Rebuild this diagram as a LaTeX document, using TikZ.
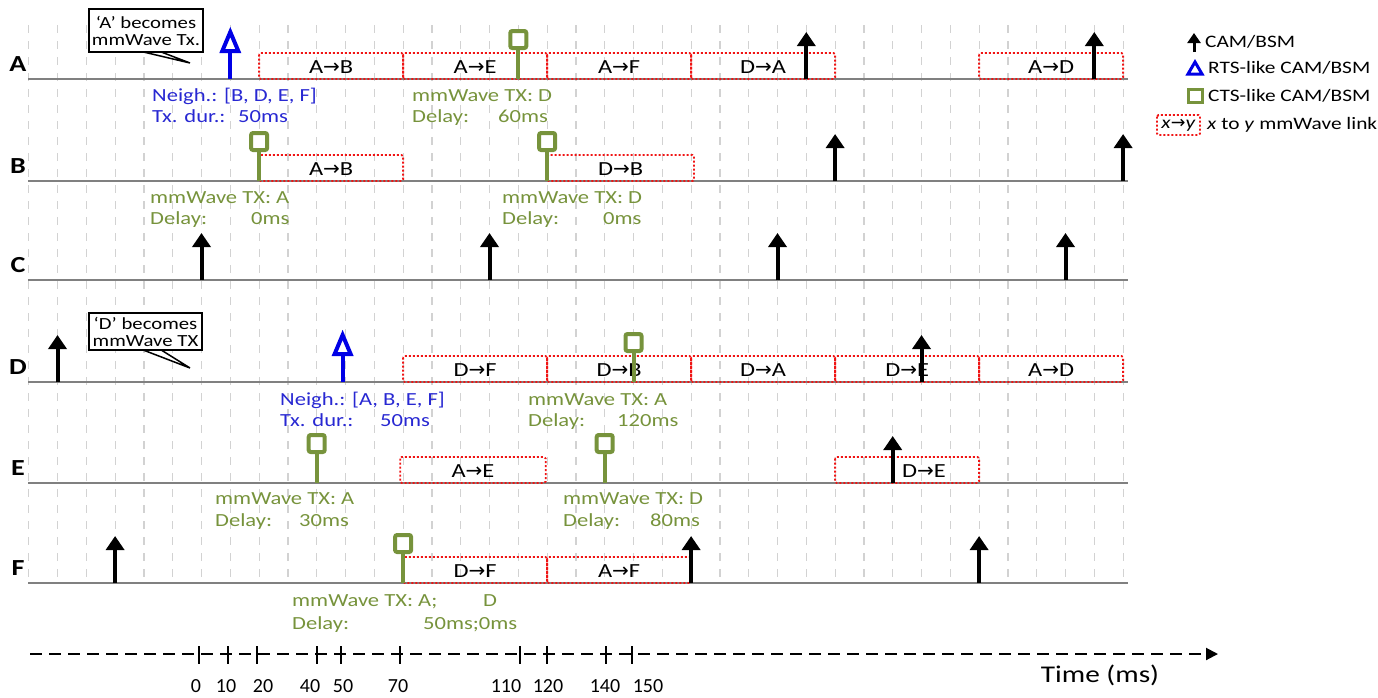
\documentclass[tikz,border=0pt]{standalone}
\usepackage{fontspec}
\setmainfont{Carlito}[FakeStretch=1.22]
\newfontfamily\plainf{Carlito}
\newfontfamily\arrf{DejaVu Sans}
\usetikzlibrary{arrows.meta}
\definecolor{tlgray}{RGB}{128,128,128}
\definecolor{gridgray}{RGB}{210,210,210}
\definecolor{ctsgreen}{RGB}{119,147,60}
\definecolor{rtsblue}{RGB}{0,0,230}
\definecolor{txtblue}{RGB}{40,40,210}
\definecolor{linkred}{RGB}{240,20,20}
\newcommand{\rarw}{{\arrf →}}
\newcommand{\camat}[2]{\draw[camarr] ({tx(#1)},#2) -- ({tx(#1)},#2-47);}
\newcommand{\rtsat}[2]{\draw[rtsln] ({tx(#1)},#2) -- ({tx(#1)},#2-28);
  \draw[rtsln, fill=white, line join=miter] ({tx(#1)-8},#2-28) -- ({tx(#1)},#2-47) -- ({tx(#1)+8},#2-28) -- cycle;}
\newcommand{\ctsat}[2]{\draw[ctsln] ({tx(#1)},#2) -- ({tx(#1)},#2-31);
  \draw[ctsln, fill=white, rounded corners=2pt] ({tx(#1)-8},#2-48) rectangle ({tx(#1)+8},#2-31);}
\newcommand{\lnk}[5]{\draw[linkbox] ({tx(#2)},#4-26) rectangle ({tx(#3)},#4);
  \node[linktxt] (#1) at ({(tx(#2)+tx(#3))/2},#4-12) {#5};}
\begin{document}
\begin{tikzpicture}[x=1pt,y=-1pt,
  declare function={tx(\t)=201.5+2.88*\t;},
  gridln/.style={draw=gridgray, line width=1.2pt, dash pattern=on 8pt off 8pt},
  tline/.style={draw=tlgray, line width=2pt},
  linkbox/.style={draw=linkred, line width=1.8pt, dash pattern=on 2pt off 2pt, rounded corners=1.5pt},
  linktxt/.style={inner sep=0pt, font=\fontsize{20}{20}\selectfont},
  camarr/.style={draw=black, line width=4pt, -{Triangle[width=18pt,length=14pt]}},
  rtsln/.style={draw=rtsblue, line width=4pt},
  ctsln/.style={draw=ctsgreen, line width=4pt},
  rowlbl/.style={inner sep=0pt, font=\fontsize{23}{23}\selectfont\bfseries},
  lbl/.style={inner sep=0pt, anchor=base west, font=\fontsize{18.5}{21}\selectfont},
  blbl/.style={lbl, text=txtblue},
  glbl/.style={lbl, text=ctsgreen},
  callbox/.style={draw=black, line width=1.5pt, fill=white, inner sep=0pt, align=center, font=\fontsize{17}{17}\selectfont},
  legtxt/.style={inner sep=0pt, anchor=west, font=\fontsize{17.5}{17.5}\selectfont},
  ticklbl/.style={inner sep=0pt, font=\plainf\fontsize{20}{20}\selectfont},
]
\useasboundingbox (0,0) rectangle (1378,697);
% grid
\foreach \t in {-60,-50,...,320} \draw[gridln] ({tx(\t)},25) -- ({tx(\t)},583);
% timelines and row letters
\foreach \r/\L in {A/79,B/181,C/280,D/382,E/483,F/583}{
  \draw[tline] (28,\L) -- (1128,\L);
  \node[rowlbl] (row\r) at (18,\L-14.5) {\r};
}
% ---- links
\lnk{lA1}{20}{70}{79}{A\rarw B}
\lnk{lA2}{70}{120}{79}{A\rarw E}
\lnk{lA3}{120}{170}{79}{A\rarw F}
\lnk{lA4}{170}{220}{79}{D\rarw A}
\lnk{lA5}{270}{320}{79}{A\rarw D}
\lnk{lB1}{20}{70}{181}{A\rarw B}
\lnk{lB2}{120}{171}{181}{D\rarw B}
\lnk{lD1}{70}{120}{382}{D\rarw F}
\lnk{lD2}{120}{170}{382}{D\rarw B}
\lnk{lD3}{170}{220}{382}{D\rarw A}
\lnk{lD4}{220}{270}{382}{D\rarw E}
\lnk{lD5}{270}{320}{382}{A\rarw D}
\lnk{lE1}{69}{119.5}{483}{A\rarw E}
\draw[linkbox] ({tx(220)},483-26) rectangle ({tx(270)},483);
\node[linktxt] (lE2) at (924,483-12) {D\rarw E};
\lnk{lF1}{70}{120}{583}{D\rarw F}
\lnk{lF2}{120}{170}{583}{A\rarw F}
% ---- symbols
% A
\rtsat{10}{79}
\ctsat{110}{79}
\camat{210}{79}
\camat{310}{79}
% B
\ctsat{20}{181}
\ctsat{120}{181}
\camat{220}{181}
\camat{320}{181}
% C
\camat{0}{280}
\camat{100}{280}
\camat{200}{280}
\camat{300}{280}
% D
\camat{-50}{382}
\rtsat{49}{382}
\ctsat{150}{382}
\camat{250}{382}
% E
\ctsat{40}{483}
\ctsat{140}{483}
\camat{240}{483}
% F
\camat{-30}{583}
\ctsat{70}{583}
\camat{170}{583}
\camat{270}{583}
% ---- callouts
\draw[line width=1.5pt, fill=white] (135,50) -- (190,63) -- (156,50) -- cycle;
\node[callbox, minimum width=114pt, minimum height=43pt] (cA) at (146,30.5) {‘A’ becomes\\mmWave Tx.};
\draw[line width=1.5pt, fill=white] (138,348) -- (190,368) -- (158,348) -- cycle;
\node[callbox, minimum width=113pt, minimum height=37pt] (cD) at (145.5,331.5) {‘D’ becomes\\mmWave TX};
% ---- labels
\node[blbl] (nA1) at (152,101.5) {Neigh.: [B, D, E, F]};
\node[blbl] (nA2) at (152,122.5) {\makebox[86pt][l]{Tx. dur.:}50ms};
\node[glbl] (gA1) at (412,101.5) {mmWave TX: D};
\node[glbl] (gA2) at (412,122.5) {\makebox[86pt][l]{Delay:}60ms};
\node[glbl] (gB1) at (150,203.5) {mmWave TX: A};
\node[glbl] (gB2) at (150,224.5) {\makebox[101pt][l]{Delay:}0ms};
\node[glbl] (gB3) at (502,203.5) {mmWave TX: D};
\node[glbl] (gB4) at (502,224.5) {\makebox[101pt][l]{Delay:}0ms};
\node[blbl] (nD1) at (280,405) {Neigh.: [A, B, E, F]};
\node[blbl] (nD2) at (280,426) {\makebox[100pt][l]{Tx. dur.:}50ms};
\node[glbl] (gD1) at (528,405) {mmWave TX: A};
\node[glbl] (gD2) at (528,426) {\makebox[89pt][l]{Delay:}120ms};
\node[glbl] (gE1) at (215,504) {mmWave TX: A};
\node[glbl] (gE2) at (215,526) {\makebox[84pt][l]{Delay:}30ms};
\node[glbl] (gE3) at (563,504) {mmWave TX: D};
\node[glbl] (gE4) at (563,526) {\makebox[87pt][l]{Delay:}80ms};
\node[glbl] (gF1) at (292,606) {\makebox[191pt][l]{mmWave TX: A;}D};
\node[glbl] (gF2) at (292,629) {\makebox[131pt][l]{Delay:}50ms;0ms};
% ---- legend
\draw[line width=3pt, -{Triangle[width=13pt,length=10pt]}] (1194,52) -- (1194,33);
\node[legtxt] (lg1) at (1205,42) {CAM/BSM};
\draw[rtsln, line width=3pt, fill=white, line join=miter] (1188,74) -- (1195,62) -- (1202,74) -- cycle;
\node[legtxt] (lg2) at (1208,68) {RTS-like CAM/BSM};
\draw[ctsln, line width=3pt, fill=white] (1188,89) rectangle (1202,102);
\node[legtxt] (lg3) at (1208,96) {CTS-like CAM/BSM};
\draw[linkbox] (1157,115) rectangle (1200,135);
\node[inner sep=0pt, font=\fontsize{17.5}{17.5}\selectfont] (lg4a) at (1178.5,125) {\textit{x}\rarw\textit{y}};
\node[legtxt] (lg4) at (1207,125) {\textit{x} to \textit{y} mmWave link};
% ---- time axis
\coordinate (ax0) at (30,654);
\coordinate (ax1) at (1218,654);
\draw[line width=2pt, dash pattern=on 12pt off 7pt, -{Triangle[width=12pt,length=12pt]}] (ax0) -- (ax1);
\foreach \x in {199,228,257,317,341,400,520,547,606,632}
  \draw[line width=1.5pt] (\x,646) -- (\x,664);
\foreach \x/\lab in {196/0,226/10,263/20,310/40,343/50,398/70,506/110,548/120,605/140,648/150}
  \node[ticklbl] (tk\lab) at (\x,686) {\lab};
\node[inner sep=0pt, font=\fontsize{24}{24}\selectfont] (tlabel) at (1100,675) {Time (ms)};
\end{tikzpicture}
\end{document}
